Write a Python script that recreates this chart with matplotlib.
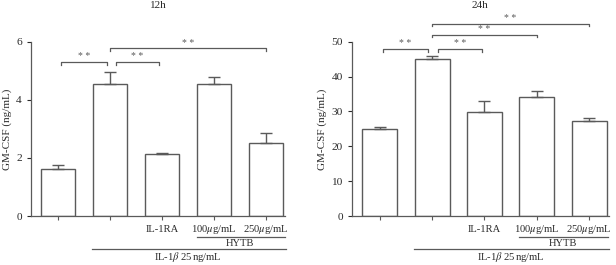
import matplotlib.pyplot as plt
from matplotlib.transforms import blended_transform_factory

plt.rcParams['font.family'] = 'Liberation Serif'
plt.rcParams['mathtext.fontset'] = 'stix'

# datos
grupos = ['', '', 'IL-1RA', '100$\\mu$g/mL', '250$\\mu$g/mL']
media_12h = [1.62, 4.53, 2.12, 4.53, 2.50]
error_12h = [0.13, 0.42, 0.06, 0.25, 0.37]
media_24h = [25.1, 45.0, 29.9, 34.0, 27.3]
error_24h = [0.4, 0.9, 3.1, 1.8, 0.8]

# comparaciones: (barra_i, barra_j, altura)
comps_12h = [(0.06, 0.94, 5.3), (1.12, 1.94, 5.3), (1, 4, 5.78)]
comps_24h = [(0.06, 0.92, 47.9), (1.12, 1.96, 47.9), (1, 3, 52.0), (1, 4, 55.2)]

gris = '#5a5a5a'
texto = '#2a2a2a'
fs = 7.6

fig = plt.figure(figsize=(6.16, 2.65), dpi=100)
alto_px = 174.3
ax1 = fig.add_axes([31 / 616, 49 / 265, 254 / 616, alto_px / 265])
ax2 = fig.add_axes([351.7 / 616, 49 / 265, 257.3 / 616, alto_px / 265])


def panel(ax, medias, errores, comps, ymax, yticks, titulo, xlim, tam_est):
    x = range(len(medias))
    ax.bar(x, medias, width=0.67, color='white', edgecolor=gris, linewidth=1.0)
    ax.errorbar(x, medias, yerr=[[0] * len(errores), errores], fmt='none',
                ecolor=gris, elinewidth=1.0, capsize=4, capthick=1.0)
    ax.set_xlim(*xlim)
    ax.set_ylim(0, ymax)
    ax.set_yticks(yticks)
    ax.set_xticks(list(x))
    ax.set_xticklabels([])
    ax.tick_params(axis='y', labelsize=fs + 0.6, colors=texto, length=3, width=0.8)
    ax.tick_params(axis='x', length=3, width=0.8, color=gris)
    for s in ['top', 'right']:
        ax.spines[s].set_visible(False)
    for s in ['left', 'bottom']:
        ax.spines[s].set_color(gris)
        ax.spines[s].set_linewidth(0.9)
    ax.set_ylabel('GM-CSF (ng/mL)', fontsize=fs + 0.4, color=texto, labelpad=3)

    tr = blended_transform_factory(ax.transData, ax.transAxes)
    # etiquetas del eje x con la misma linea base
    for i, g in zip(x, grupos):
        ax.text(i, -15.5 / alto_px, g, transform=tr, ha='center', va='baseline',
                fontsize=fs, color=texto)

    # corchetes de significancia
    d = ymax * 0.015
    for a, b, h in comps:
        ax.plot([a, a, b, b], [h - d, h, h, h - d], color=gris, lw=0.9, clip_on=False)
        ax.text((a + b) / 2, h + tam_est, '* *', ha='center', va='bottom',
                fontsize=7, color=gris)

    ax.text(0.5, 1.205, titulo, transform=ax.transAxes, ha='center', va='center',
            fontsize=fs + 0.4, color=texto)

    # grupos debajo del eje
    ax.plot([2.665, 4.37], [-20.5 / alto_px] * 2, color=gris, lw=0.9,
            transform=tr, clip_on=False)
    ax.text(3.5, -30.5 / alto_px, 'HYTB', transform=tr, ha='center', va='baseline',
            fontsize=fs, color=texto)
    ax.plot([0.65, 4.38], [-32.5 / alto_px] * 2, color=gris, lw=0.9,
            transform=tr, clip_on=False)
    ax.text(2.5, -44.5 / alto_px, 'IL-1$\\beta$ 25$\\,$ng/mL', transform=tr, ha='center',
            va='baseline', fontsize=fs, color=texto)


panel(ax1, media_12h, error_12h, comps_12h, 6, [0, 2, 4, 6], '12h', (-0.52, 4.365), 0.02)
panel(ax2, media_24h, error_24h, comps_24h, 50, [0, 10, 20, 30, 40, 50], '24h', (-0.535, 4.38), 0.2)

fig.savefig('out.png', dpi=100)
